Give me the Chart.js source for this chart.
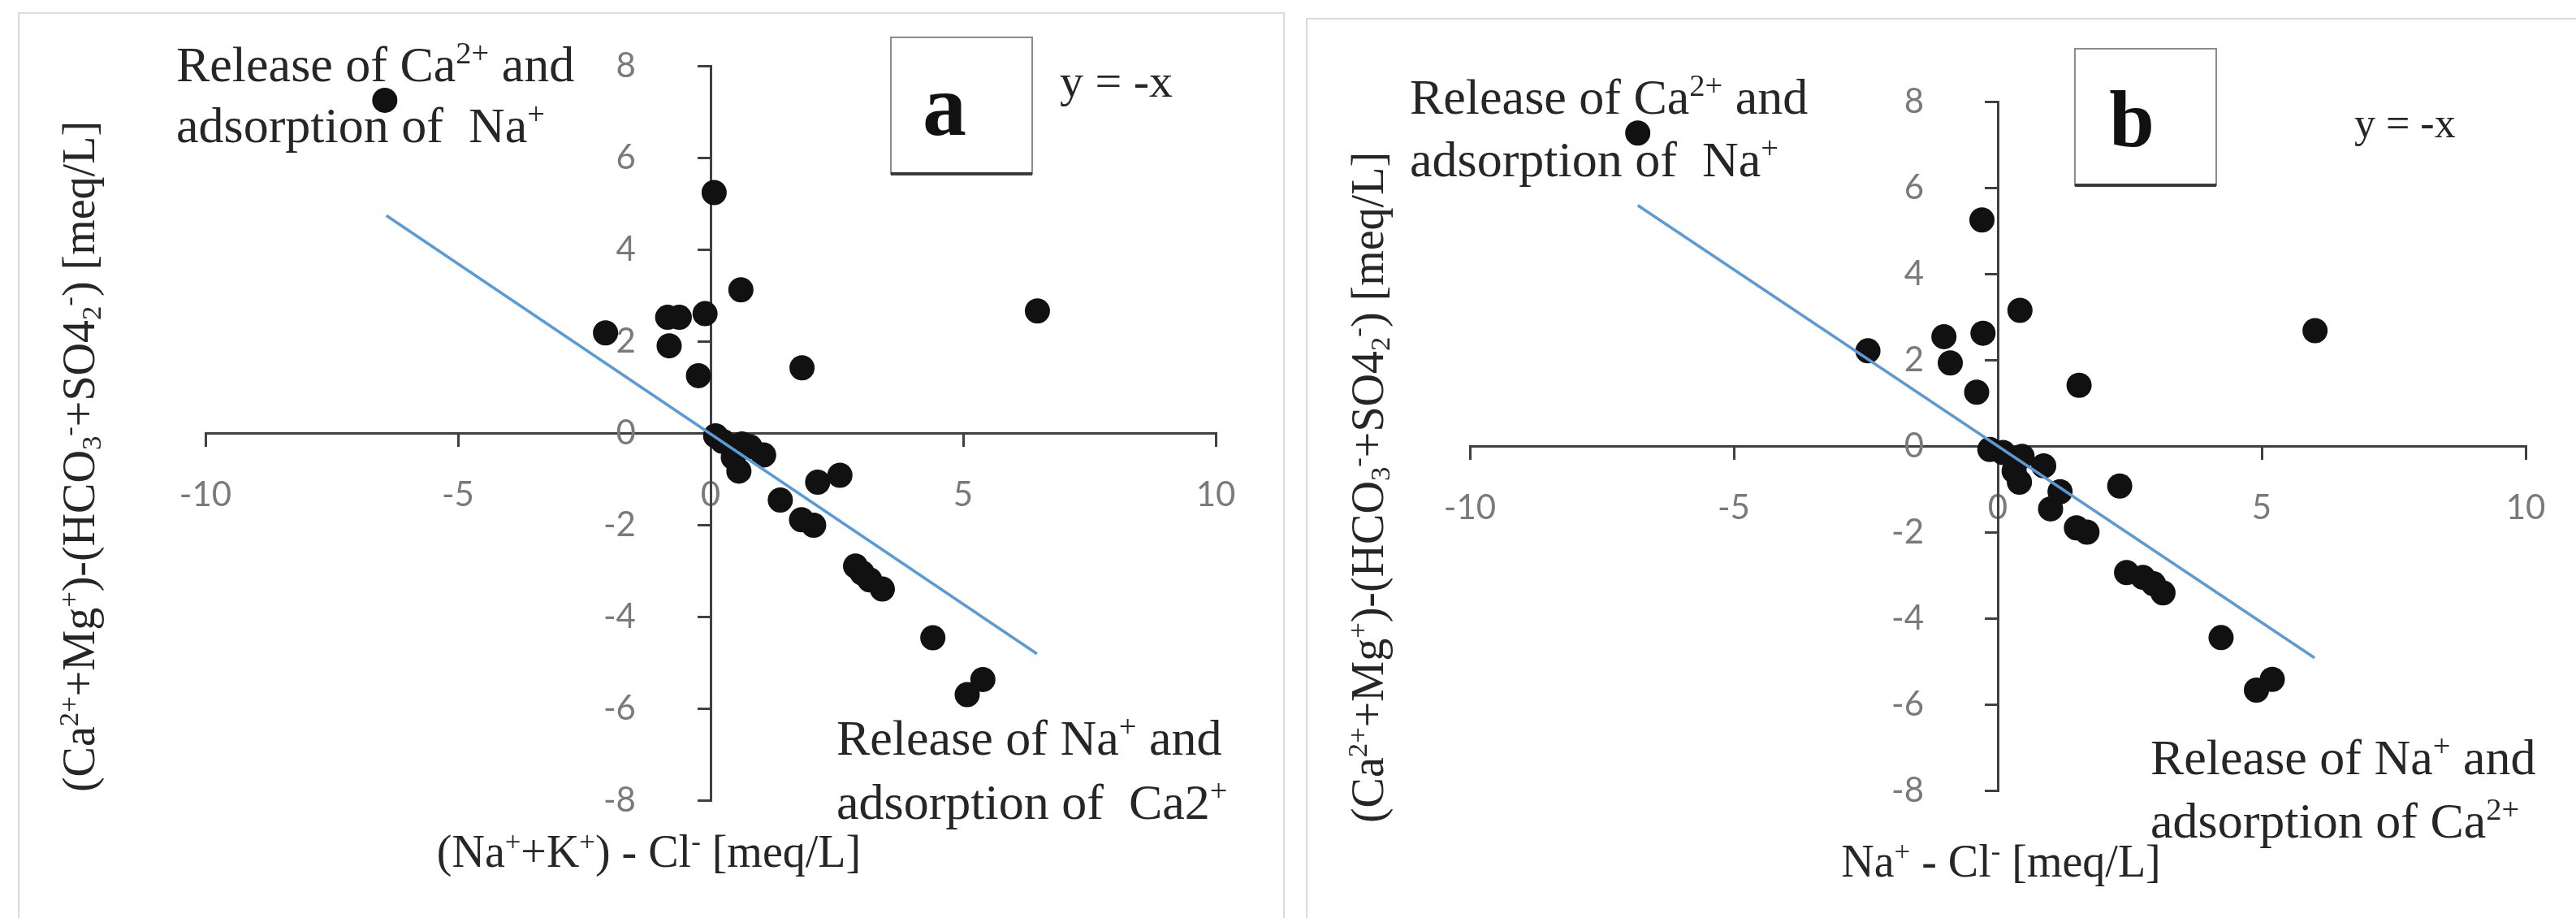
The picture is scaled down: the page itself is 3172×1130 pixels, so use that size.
<!DOCTYPE html>
<html>
<head>
<meta charset="utf-8">
<script src="https://cdn.jsdelivr.net/npm/chart.js@4.4.1/dist/chart.umd.min.js"></script>
<style>
  html, body { margin: 0; padding: 0; background: #fff; }
  body { width: 3172px; height: 1130px; position: relative; overflow: hidden; }
  .panel { position: absolute; border: 2px solid #dadada; box-sizing: border-box; }
  canvas { position: absolute; top: 0; }
</style>
</head>
<body>
<div class="panel" style="left:22px; top:15px; width:1560px; height:1200px;"></div>
<div class="panel" style="left:1608px; top:22px; width:1600px; height:1200px;"></div>
<canvas id="chartA" width="1570" height="1130" style="left:20px"></canvas>
<canvas id="chartB" width="1572" height="1130" style="left:1600px"></canvas>
<script>
// panel a: (Na+ + K+) - Cl-  vs  (Ca2+ + Mg2+) - (HCO3- + SO4 2-)
const aX = [-6.45, 0.07, 0.6, -0.11, -0.85, -0.62, -2.08, -0.82, -0.24, 1.81, 6.47,
  0.1, 0.24, 0.45, 0.56, 0.62, 0.78, 1.05, 2.12, 2.56, 1.38, 1.8, 2.04,
  2.87, 3.0, 3.15, 3.4, 4.4, 5.39, 5.08];
const aY = [7.25, 5.24, 3.12, 2.6, 2.52, 2.52, 2.18, 1.9, 1.25, 1.42, 2.66,
  -0.06, -0.18, -0.53, -0.83, -0.24, -0.3, -0.48, -1.07, -0.92, -1.46, -1.89, -2.01,
  -2.9, -3.05, -3.2, -3.4, -4.46, -5.37, -5.7];
const aLineX = [-6.42, 6.46];
const aLineY = [4.74, -4.81];

// panel b: Na+ - Cl-  vs  same y
const bX = [-6.82, -0.3, 0.42, -0.28, -1.02, -2.46, -0.9, -0.4, 1.54, 6.01,
  -0.15, 0.1, 0.46, 0.87, 0.41, 0.31, 1.18, 1.0, 1.49, 1.69, 2.31,
  2.44, 2.75, 2.95, 3.13, 4.23, 5.2, 4.9];
const bY = [7.27, 5.25, 3.15, 2.62, 2.54, 2.21, 1.93, 1.25, 1.41, 2.68,
  -0.08, -0.15, -0.24, -0.46, -0.84, -0.58, -1.06, -1.46, -1.9, -2.0, -0.93,
  -2.94, -3.05, -3.2, -3.41, -4.45, -5.42, -5.67];
const bLineX = [-6.82, 6.0];
const bLineY = [5.59, -4.92];

const xTicks = [-10, -5, 0, 5, 10];
const yTicks = [-8, -6, -4, -2, 0, 2, 4, 6, 8];

const SERIF = '"Liberation Serif", "Times New Roman", serif';
const AXIS = '#404040';
const TICK_TEXT = '#7a7a7a';

// "Ca^{2+}" -> sup, "HCO_{3}" -> sub
function parseRich(str) {
  const parts = [];
  const re = /([\^_])\{([^}]*)\}|([^\^_]+)/g;
  let m;
  while ((m = re.exec(str))) {
    if (m[3]) parts.push([m[3], '']);
    else parts.push([m[2], m[1] === '^' ? 'sup' : 'sub']);
  }
  return parts;
}

function drawRich(ctx, str, x, y, size, align) {
  const parts = parseRich(str);
  const fontFor = k => (k ? size * 0.62 : size) + 'px ' + SERIF;
  let w = 0;
  parts.forEach(([t, k]) => { ctx.font = fontFor(k); w += ctx.measureText(t).width; });
  let cx = align === 'center' ? x - w / 2 : x;
  ctx.textAlign = 'left';
  ctx.textBaseline = 'alphabetic';
  parts.forEach(([t, k]) => {
    ctx.font = fontFor(k);
    const dy = k === 'sup' ? -size * 0.36 : k === 'sub' ? size * 0.15 : 0;
    ctx.fillText(t, cx, y + dy);
    cx += ctx.measureText(t).width;
  });
}

function notesPlugin(panel) {
  return {
    id: 'notes',
    afterDraw(chart) {
      const ctx = chart.ctx;
      const ox = panel.offset;
      ctx.save();
      ctx.fillStyle = '#262626';
      panel.notes.forEach(n => drawRich(ctx, n.text, n.x - ox, n.y, n.size, 'left'));
      drawRich(ctx, panel.xTitle.text, panel.xTitle.x - ox, panel.xTitle.y, 56, 'center');

      ctx.save();
      ctx.translate(panel.yTitle.x - ox, panel.yTitle.y);
      ctx.rotate(-Math.PI / 2);
      drawRich(ctx, panel.yTitle.text, 0, 0, 56, 'center');
      ctx.restore();

      // panel letter box
      const b = panel.box;
      ctx.strokeStyle = '#8c8c8c';
      ctx.lineWidth = 2;
      ctx.strokeRect(b.x0 - ox, b.y0, b.x1 - b.x0, b.y1 - b.y0);
      ctx.strokeStyle = '#3a3a3a';
      ctx.lineWidth = 4;
      ctx.beginPath();
      ctx.moveTo(b.x0 - ox, b.y1);
      ctx.lineTo(b.x1 - ox, b.y1);
      ctx.stroke();
      ctx.fillStyle = '#111';
      ctx.font = 'bold ' + b.size + 'px ' + SERIF;
      ctx.textAlign = 'center';
      ctx.textBaseline = 'alphabetic';
      ctx.fillText(b.letter, b.lx - ox, b.ly);
      ctx.restore();
    }
  };
}

function makeChart(id, xs, ys, lx, ly, panel) {
  const points = xs.map((x, i) => ({ x, y: ys[i] }));
  const line = lx.map((x, i) => ({ x, y: ly[i] }));
  const tickFont = { family: 'Lato, "Open Sans", sans-serif', size: 42 };

  return new Chart(document.getElementById(id), {
    type: 'scatter',
    data: {
      datasets: [
        { data: line, showLine: true, borderColor: '#5B9BD5', borderWidth: 3.5, pointRadius: 0, order: 0 },
        { data: points, backgroundColor: '#111111', borderWidth: 0, pointRadius: 15.5, order: 1 }
      ]
    },
    options: {
      responsive: false,
      animation: false,
      layout: { padding: panel.padding },
      plugins: {
        legend: { display: false },
        tooltip: { enabled: false }
      },
      scales: {
        x: {
          type: 'linear',
          position: { y: 0 },
          min: -10,
          max: 10,
          afterBuildTicks: s => { s.ticks = xTicks.map(v => ({ value: v })); },
          grid: { drawOnChartArea: false, tickLength: 15, color: AXIS, lineWidth: 3 },
          border: { color: AXIS, width: 3 },
          ticks: { color: TICK_TEXT, font: tickFont, padding: 36, autoSkip: false, maxRotation: 0 }
        },
        y: {
          type: 'linear',
          position: { x: 0 },
          min: -8,
          max: 8,
          afterBuildTicks: s => { s.ticks = yTicks.map(v => ({ value: v })); },
          grid: { drawOnChartArea: false, tickLength: 15, color: AXIS, lineWidth: 3 },
          border: { color: AXIS, width: 3 },
          ticks: { display: false }
        },
        // label-only copy of the y axis, set just left of x = 0, drawn over the dots
        yl: {
          type: 'linear',
          axis: 'y',
          position: { x: panel.labelAt },
          min: -8,
          max: 8,
          z: 1,
          afterBuildTicks: s => { s.ticks = yTicks.map(v => ({ value: v })); },
          grid: { display: false },
          border: { display: false },
          ticks: { color: TICK_TEXT, font: tickFont, padding: 0, autoSkip: false }
        }
      }
    },
    plugins: [notesPlugin(panel)]
  });
}

const yTitle = '(Ca^{2+}+Mg^{+})-(HCO_{3}^{-}+SO4_{2}^{-}) [meq/L]';

makeChart('chartA', aX, aY, aLineX, aLineY, {
  offset: 20,
  padding: { left: 233, right: 93, top: 81, bottom: 145 },
  labelAt: -1.48,
  notes: [
    { text: 'Release of Ca^{2+} and', x: 217, y: 100, size: 62 },
    { text: 'adsorption of  Na^{+}', x: 217, y: 175, size: 62 },
    { text: 'y = -x', x: 1305, y: 119, size: 58 },
    { text: 'Release of Na^{+} and', x: 1030, y: 929, size: 62 },
    { text: 'adsorption of  Ca2^{+}', x: 1030, y: 1008, size: 62 }
  ],
  xTitle: { text: '(Na^{+}+K^{+}) - Cl^{-} [meq/L]', x: 799, y: 1067 },
  yTitle: { text: yTitle, x: 116, y: 562 },
  box: { x0: 1097, y0: 46, x1: 1271, y1: 214, letter: 'a', lx: 1163, ly: 166, size: 108 }
});

makeChart('chartB', bX, bY, bLineX, bLineY, {
  offset: 1600,
  padding: { left: 210, right: 62, top: 125, bottom: 157 },
  labelAt: -1.4,
  notes: [
    { text: 'Release of Ca^{2+} and', x: 1736, y: 140, size: 62 },
    { text: 'adsorption of  Na^{+}', x: 1736, y: 217, size: 62 },
    { text: 'y = -x', x: 2899, y: 169, size: 52 },
    { text: 'Release of Na^{+} and', x: 2648, y: 953, size: 62 },
    { text: 'adsorption of Ca^{2+}', x: 2648, y: 1031, size: 62 }
  ],
  xTitle: { text: 'Na^{+} - Cl^{-} [meq/L]', x: 2464, y: 1079 },
  yTitle: { text: yTitle, x: 1703, y: 600 },
  box: { x0: 2555, y0: 60, x1: 2729, y1: 228, letter: 'b', lx: 2625, ly: 180, size: 100 }
});
</script>
</body>
</html>
